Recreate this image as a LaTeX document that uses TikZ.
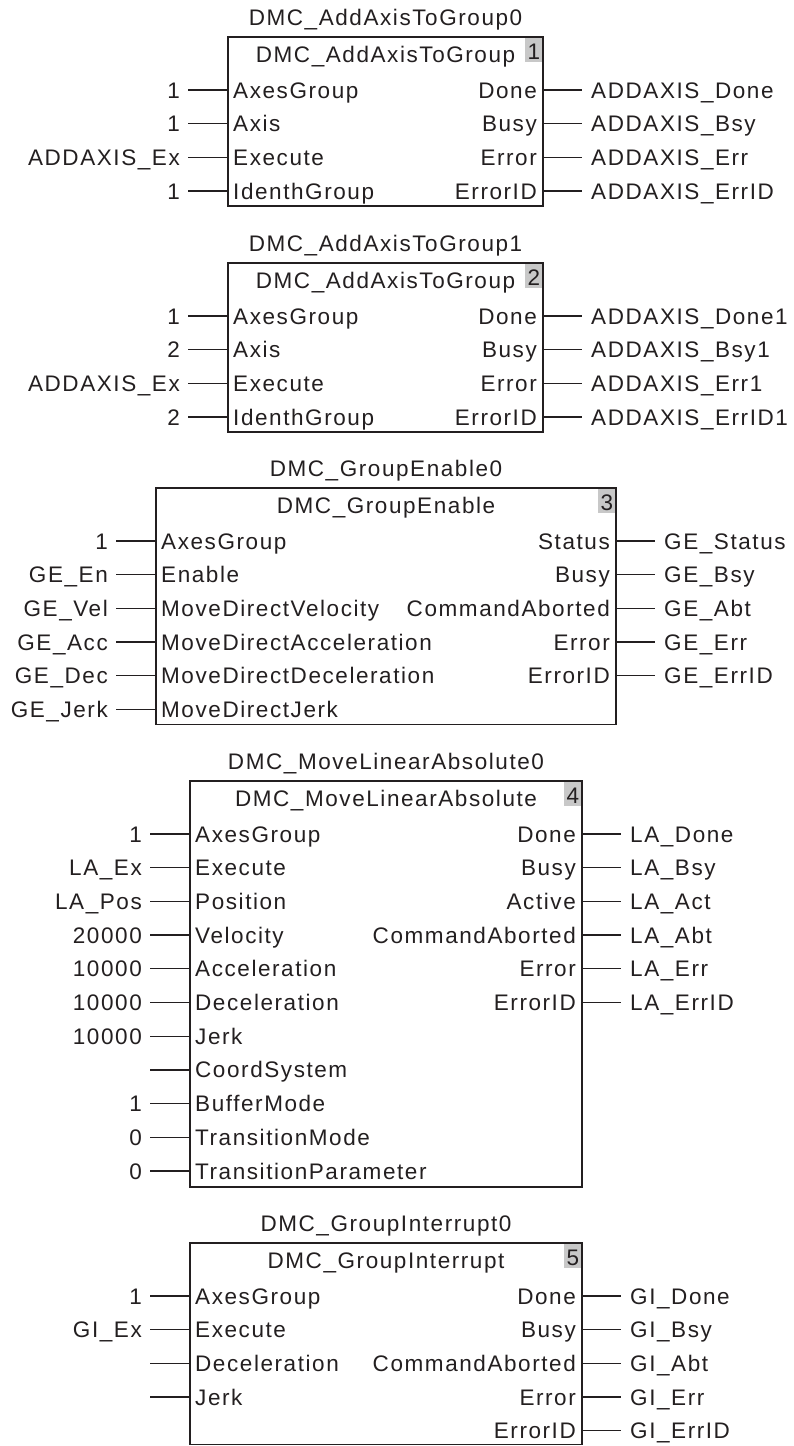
\documentclass[tikz,border=0pt]{standalone}
\usepackage{fontspec}
\setmainfont[LetterSpace=7]{Liberation Sans}
\usepackage{tikz}
\usetikzlibrary{calc}
\definecolor{inkdark}{HTML}{231F20}
\definecolor{taggray}{HTML}{C8C8C8}
\tikzset{every node/.append style={font=\fontsize{22.5pt}{26pt}\selectfont,text=inkdark,inner sep=0pt}}
\tikzset{
  blockframe/.style={draw=inkdark,line width=1.6pt},
  pinline/.style={draw=inkdark,line width=1.3pt},
  tagbox/.style={fill=taggray,minimum width=18pt,minimum height=25pt,
    text height=20.5pt,text depth=0pt,anchor=north east}
}
% frame, instance name, type name and number of one block
\newcommand{\fbblock}[8]{%
  \coordinate (#1nw) at (#2,#4);
  \coordinate (#1se) at (#3,#5);
  \node[tagbox] (#1tag) at (#1nw -| #1se) {#8};
  \draw[blockframe] (#1nw) rectangle (#1se);
  \node[anchor=base] (#1title) at ({(#2+#3)/2},{#4-12}) {#6};
  \node[anchor=base] (#1head) at ({(#2+#3)/2},{#4+25}) {#7};
}
% input and output pins of one block
\newcommand{\fbpins}[6]{%
  \foreach \val/\pin [count=\i from 0] in {#5}{
    \coordinate (#1in\i) at (#2,{#4+53+33.7*\i});
    \coordinate (#1inend\i) at ($(#1in\i)+(-40,0)$);
    \draw[pinline] (#1inend\i) -- (#1in\i);
    \node[anchor=base east] (#1inval\i) at ($(#1inend\i)+(-8,8)$) {\val};
    \node[anchor=base west] (#1inpin\i) at ($(#1in\i)+(5,8)$) {\pin};
  }
  \foreach \pin/\val [count=\i from 0] in {#6}{
    \coordinate (#1out\i) at (#3,{#4+53+33.7*\i});
    \coordinate (#1outend\i) at ($(#1out\i)+(39,0)$);
    \draw[pinline] (#1out\i) -- (#1outend\i);
    \node[anchor=base east] (#1outpin\i) at ($(#1out\i)+(-6,8)$) {\pin};
    \node[anchor=base west] (#1outval\i) at ($(#1outend\i)+(9,8)$) {\val};
  }
}

\begin{document}
\begin{tikzpicture}[x=1pt,y=-1pt]
  \useasboundingbox (0,0) rectangle (793,1446);
  \fill[white] (0,0) rectangle (793,1446);

  % add axis 1
  \fbblock{add}{228}{543}{37}{206}{DMC\_AddAxisToGroup0}{DMC\_AddAxisToGroup}{1}
  \fbpins{add}{228}{543}{37}
    {1/AxesGroup,1/Axis,ADDAXIS\_Ex/Execute,1/IdenthGroup}
    {Done/ADDAXIS\_Done,Busy/ADDAXIS\_Bsy,Error/ADDAXIS\_Err,ErrorID/ADDAXIS\_ErrID}

  % add axis 2
  \fbblock{addb}{228}{543}{263}{432}{DMC\_AddAxisToGroup1}{DMC\_AddAxisToGroup}{2}
  \fbpins{addb}{228}{543}{263}
    {1/AxesGroup,2/Axis,ADDAXIS\_Ex/Execute,2/IdenthGroup}
    {Done/ADDAXIS\_Done1,Busy/ADDAXIS\_Bsy1,Error/ADDAXIS\_Err1,ErrorID/ADDAXIS\_ErrID1}

  % group enable
  \fbblock{ge}{156}{616}{488}{724.5}{DMC\_GroupEnable0}{DMC\_GroupEnable}{3}
  \fbpins{ge}{156}{616}{488}
    {1/AxesGroup,GE\_En/Enable,GE\_Vel/MoveDirectVelocity,GE\_Acc/MoveDirectAcceleration,
     GE\_Dec/MoveDirectDeceleration,GE\_Jerk/MoveDirectJerk}
    {Status/GE\_Status,Busy/GE\_Bsy,CommandAborted/GE\_Abt,Error/GE\_Err,ErrorID/GE\_ErrID}

  % linear move
  \fbblock{la}{190}{582}{781}{1187}{DMC\_MoveLinearAbsolute0}{DMC\_MoveLinearAbsolute}{4}
  \fbpins{la}{190}{582}{781}
    {1/AxesGroup,LA\_Ex/Execute,LA\_Pos/Position,20000/Velocity,10000/Acceleration,
     10000/Deceleration,10000/Jerk,/CoordSystem,1/BufferMode,0/TransitionMode,
     0/TransitionParameter}
    {Done/LA\_Done,Busy/LA\_Bsy,Active/LA\_Act,CommandAborted/LA\_Abt,Error/LA\_Err,
     ErrorID/LA\_ErrID}

  % group interrupt
  \fbblock{gi}{190}{582}{1243}{1444.5}{DMC\_GroupInterrupt0}{DMC\_GroupInterrupt}{5}
  \fbpins{gi}{190}{582}{1243}
    {1/AxesGroup,GI\_Ex/Execute,/Deceleration,/Jerk}
    {Done/GI\_Done,Busy/GI\_Bsy,CommandAborted/GI\_Abt,Error/GI\_Err,ErrorID/GI\_ErrID}
\end{tikzpicture}
\end{document}
